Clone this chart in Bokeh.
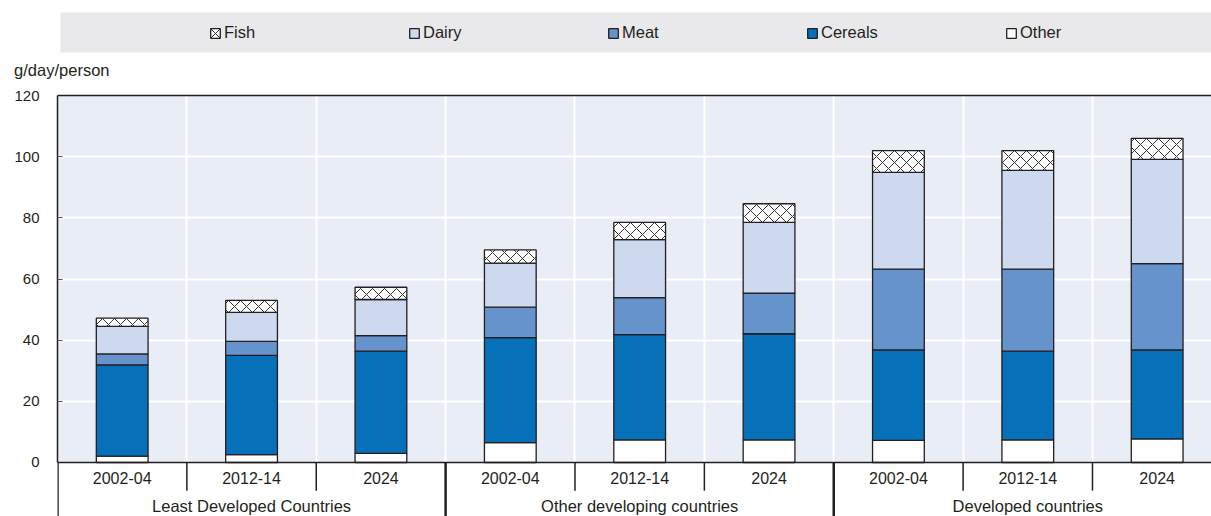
from bokeh.plotting import figure
from bokeh.models import (ColumnDataSource, Range1d, LinearAxis, FixedTicker, Legend,
                          LegendItem, BoxAnnotation, Span)
from bokeh.core.properties import value
from bokeh.embed import file_html
from bokeh.resources import INLINE

# ---------------- data ----------------
groups = ["Least Developed Countries", "Other developing countries", "Developed countries"]
periods = ["2002-04", "2012-14", "2024"]
series = ["Other", "Cereals", "Meat", "Dairy", "Fish"]          # stacking order (bottom -> top)
legend_order = ["Fish", "Dairy", "Meat", "Cereals", "Other"]

other   = [2.1, 2.6, 3.0, 6.5, 7.4, 7.4, 7.2, 7.4, 7.7]
cereals = [29.8, 32.4, 33.4, 34.3, 34.4, 34.7, 29.6, 29.0, 29.1]
meat    = [3.6, 4.6, 5.1, 10.0, 12.1, 13.3, 26.4, 26.8, 28.2]
dairy   = [9.0, 9.5, 11.8, 14.4, 19.0, 23.1, 31.7, 32.3, 34.1]
fish    = [2.7, 3.9, 4.0, 4.3, 5.6, 6.1, 7.1, 6.5, 6.9]

y_ticks = [0, 20, 40, 60, 80, 100, 120]
unit_label = "g/day/person"

# ---------------- derived positions ----------------
cats = [(g, pr) for g in groups for pr in periods]
xs = [i + 0.5 for i in range(len(cats))]
np_ = len(periods)
period_bounds = [i for i in range(1, len(cats)) if i % np_ != 0]
group_bounds = [g * np_ for g in range(len(groups))]
group_centers = [g * np_ + np_ / 2 for g in range(len(groups))]

source = ColumnDataSource(dict(x=xs, Other=other, Cereals=cereals, Meat=meat,
                               Dairy=dairy, Fish=fish))

# ---------------- style / layout constants ----------------
FONT = "Liberation Sans"
TXT = "#231f20"
DARK = "#231f20"
X_END = 8.92            # last category slightly cropped, as in the original
Y_TOP = y_ticks[-1]
Y_END = 151.07          # frame reaches the top of the page (legend band + unit label)
Y_BOTTOM = -17.66       # frame reaches the bottom of the page (category labels)
Y_PERIOD_LABEL = -5.2
Y_GROUP_LABEL = -14.3
Y_PERIOD_SEP = -9.2
Y_UNIT = 128.2
BAND = (0.023, 134.06, 147.14)   # left, bottom, top of the legend band

colors = {"Other": "#ffffff", "Cereals": "#0670b9", "Meat": "#6693cc",
          "Dairy": "#ccd9ef", "Fish": "#ffffff"}

p = figure(width=1211, height=516, x_range=Range1d(0, X_END), y_range=Range1d(Y_BOTTOM, Y_END),
           output_backend="svg", toolbar_location=None, x_axis_location=None,
           min_border_left=57, min_border_right=0, min_border_top=0, min_border_bottom=0,
           background_fill_color="#ffffff", border_fill_color="#ffffff", outline_line_color=None)

# plot-area background (0..120 only)
p.add_layout(BoxAnnotation(left=0, right=X_END, bottom=0, top=Y_TOP, fill_color="#e9edf6",
                           fill_alpha=1, line_color=None, level="image"))

renderers = p.vbar_stack(series, x="x", width=0.4, source=source,
                         fill_color=[colors[s] for s in series],
                         line_color=DARK, line_width=1.3,
                         hatch_pattern=[" ", " ", " ", " ", "x"],
                         hatch_color="#333333", hatch_scale=12, hatch_weight=1.0)
rmap = dict(zip(series, renderers))

# y axis
yax = p.yaxis[0]
yax.ticker = FixedTicker(ticks=y_ticks)
yax.bounds = (0, Y_TOP)
yax.axis_line_color = DARK
yax.axis_line_width = 1.5
yax.major_tick_in = 5
yax.major_tick_out = 0
yax.major_tick_line_color = "#555555"
yax.minor_tick_line_color = None
yax.major_label_standoff = 18
yax.major_label_text_font = FONT
yax.major_label_text_font_size = "15px"
yax.major_label_text_color = TXT

# unit label carried by a second, zero-width left axis
uax = LinearAxis(ticker=FixedTicker(ticks=[Y_UNIT]), major_label_overrides={Y_UNIT: unit_label},
                 axis_line_color=None, major_tick_line_color=None, minor_tick_line_color=None,
                 major_tick_in=0, major_tick_out=0, major_label_standoff=-98,
                 major_label_text_font=FONT, major_label_text_font_size="16.5px",
                 major_label_text_color=TXT)
p.add_layout(uax, "left")

# grids
p.ygrid.ticker = FixedTicker(ticks=y_ticks[1:-1])
p.ygrid.grid_line_color = "#ffffff"
p.ygrid.grid_line_width = 2
p.xgrid.ticker = FixedTicker(ticks=list(range(1, len(cats))))
p.xgrid.grid_line_color = "#ffffff"
p.xgrid.grid_line_width = 2

# legend band (drawn over the grid lines that run through the top area)
p.add_layout(BoxAnnotation(left=BAND[0], right=X_END, bottom=BAND[1], top=BAND[2],
                           fill_color="#e9e9eb", fill_alpha=1, line_color=None, level="underlay"))

# frame lines: top and x axis
p.add_layout(Span(location=Y_TOP, dimension="width", line_color=DARK, line_width=1.5))
p.add_layout(Span(location=0, dimension="width", line_color=DARK, line_width=1.5))

# category separators under the axis
p.segment(x0=period_bounds, y0=[0] * len(period_bounds), x1=period_bounds,
          y1=[Y_PERIOD_SEP] * len(period_bounds), line_color=DARK, line_width=1.5)
p.segment(x0=group_bounds, y0=[0] * len(group_bounds), x1=group_bounds,
          y1=[Y_BOTTOM] * len(group_bounds), line_color=DARK, line_width=2.5)

# category labels
p.text(x=xs, y=[Y_PERIOD_LABEL] * len(xs), text=[c[1] for c in cats],
       text_align="center", text_baseline="middle", text_font=value(FONT),
       text_font_size="16px", text_color=TXT)
p.text(x=group_centers, y=[Y_GROUP_LABEL] * len(groups), text=groups,
       text_align="center", text_baseline="middle", text_font=value(FONT),
       text_font_size="16.5px", text_color=TXT)

legend = Legend(items=[LegendItem(label=s, renderers=[rmap[s]]) for s in legend_order],
                orientation="horizontal", location=(152, 474),
                background_fill_alpha=0, border_line_color=None,
                label_text_font=FONT, label_text_font_size="16.5px", label_text_color=TXT,
                glyph_width=12, glyph_height=12, label_width=170, spacing=14,
                label_standoff=3, padding=10, margin=0)
p.add_layout(legend, "center")

open("out.html", "w").write(file_html(p, INLINE))
